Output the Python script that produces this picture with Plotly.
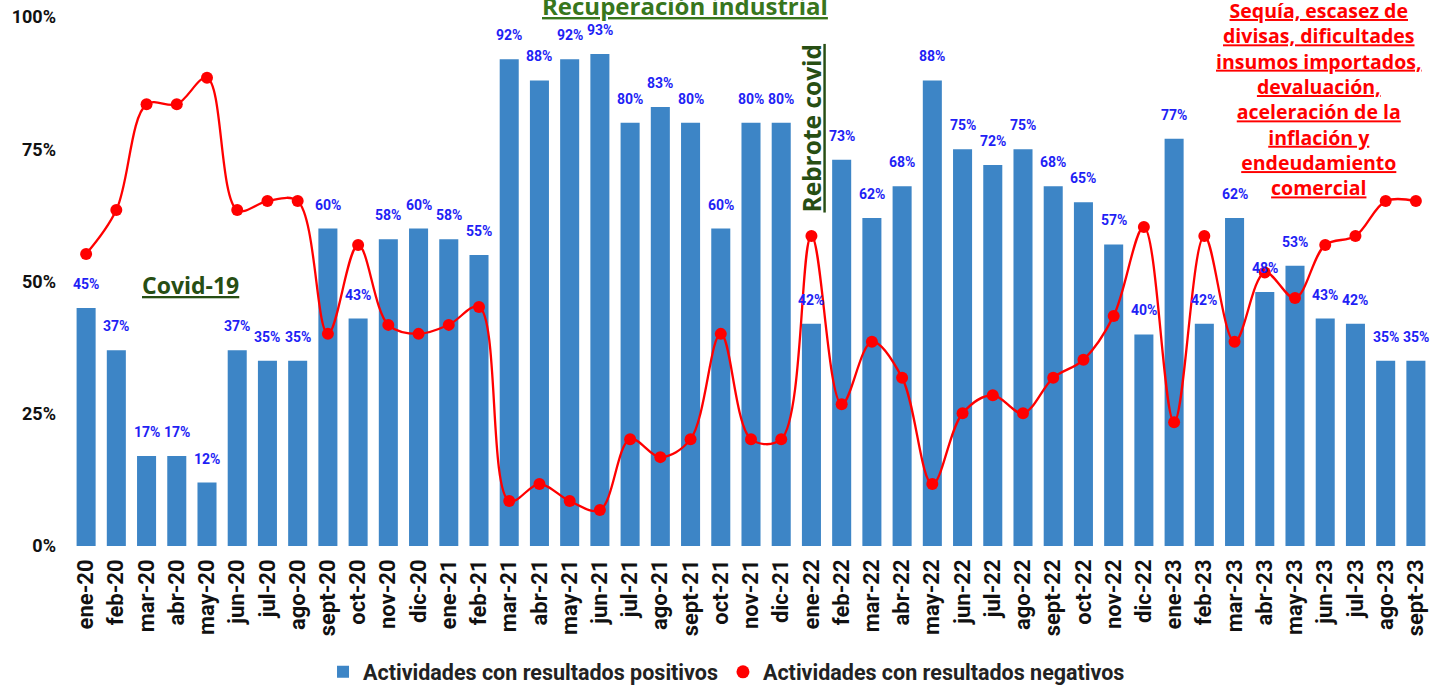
import plotly.graph_objects as go

categories = ["ene-20","feb-20","mar-20","abr-20","may-20","jun-20","jul-20","ago-20","sept-20","oct-20","nov-20","dic-20",
              "ene-21","feb-21","mar-21","abr-21","may-21","jun-21","jul-21","ago-21","sept-21","oct-21","nov-21","dic-21",
              "ene-22","feb-22","mar-22","abr-22","may-22","jun-22","jul-22","ago-22","sept-22","oct-22","nov-22","dic-22",
              "ene-23","feb-23","mar-23","abr-23","may-23","jun-23","jul-23","ago-23","sept-23"]

positivos = [45, 37, 17, 17, 12, 37, 35, 35, 60, 43, 58, 60,
             58, 55, 92, 88, 92, 93, 80, 83, 80, 60, 80, 80,
             42, 73, 62, 68, 88, 75, 72, 75, 68, 65, 57, 40,
             77, 42, 62, 48, 53, 43, 42, 35, 35]

negativos = [55.2, 63.5, 83.5, 83.5, 88.5, 63.5, 65.2, 65.2, 40.1, 56.9, 41.8, 40.1,
             41.8, 45.2, 8.5, 11.7, 8.5, 6.8, 20.2, 16.8, 20.2, 40.1, 20.2, 20.2,
             58.6, 26.8, 38.6, 31.8, 11.7, 25.1, 28.5, 25.1, 31.8, 35.2, 43.5, 60.3,
             23.4, 58.6, 38.6, 51.7, 46.9, 56.9, 58.6, 65.2, 65.2]

ytick_vals = [0, 25, 50, 75, 100]
ytick_text = ["0%", "25%", "50%", "75%", "100%"]

name_pos = "Actividades con resultados positivos"
name_neg = "Actividades con resultados negativos"

fig = go.Figure()
fig.add_trace(go.Bar(
    x=categories, y=positivos, name=f"<b>{name_pos}</b>",
    marker=dict(color="#3d85c6", line=dict(width=0)),
))
fig.add_trace(go.Scatter(
    x=categories, y=negativos, name=f"<b>{name_neg}</b>", showlegend=False,
    mode="lines+markers", line=dict(color="#ff0000", width=2.3, shape="spline", smoothing=1.0),
    marker=dict(color="#ff0000", size=12),
))
# legend entry showing only the red dot
fig.add_trace(go.Scatter(
    x=[None], y=[None], name=f"<b>{name_neg}</b>", mode="markers",
    marker=dict(color="#ff0000", size=13),
))

for c, v in zip(categories, positivos):
    fig.add_annotation(x=c, y=v, text=f"<b>{v}%</b>", showarrow=False, yshift=24,
                       font=dict(family="Roboto", size=14, color="#1f1ff5"))

ann_font = "Open Sans"
fig.add_annotation(xref="x", yref="y", x=3.44, y=49.3, text="<b><u>Covid-19</u></b>", showarrow=False,
                   font=dict(family=ann_font, size=23, color="#274e13"))
fig.add_annotation(xref="x", yref="paper", x=19.8, y=1.0, yshift=12, yanchor="middle",
                   text="<b><u>Recuperación industrial</u></b>", showarrow=False,
                   font=dict(family=ann_font, size=24, color="#38761d"))
fig.add_annotation(xref="x", yref="y", x=24.0, y=79, text="<b><u>Rebrote covid</u></b>", showarrow=False, textangle=-90,
                   font=dict(family=ann_font, size=24.5, color="#274e13"))
red_lines = ["Sequía, escasez de", "divisas, dificultades", "insumos importados,", "devaluación,",
             "aceleración de la", "inflación y", "endeudamiento", "comercial"]
fig.add_annotation(xref="x", yref="y", x=40.8, y=84.5, showarrow=False,
                   text="<br>".join(f"<b><u>{t}</u></b>" for t in red_lines),
                   font=dict(family=ann_font, size=19.5, color="#ff0000"))

fig.update_layout(
    width=1431, height=687,
    margin=dict(l=71, r=0, t=17, b=141),
    plot_bgcolor="white", paper_bgcolor="white",
    bargap=0.37,
    showlegend=True,
    legend=dict(orientation="h", x=0.482, xanchor="center", yref="container", y=0.022, yanchor="middle",
                font=dict(family="Roboto", size=21.5, color="#222222"), itemwidth=30,
                tracegroupgap=0, borderwidth=0),
    xaxis=dict(type="category", range=[-0.5, 44.5], tickangle=-90, showgrid=False, showline=False, ticks="",
               tickfont=dict(family="Roboto", size=22, color="#111111"),
               tickprefix="<b>", ticksuffix="</b>", ticklabelstandoff=8, automargin=False),
    yaxis=dict(range=[0, 100], tickvals=ytick_vals, ticktext=[f"<b>{t}</b>" for t in ytick_text],
               showgrid=False, zeroline=False, showline=False, automargin=False,
               tickfont=dict(family="Roboto", size=18, color="#111111"), ticklabelstandoff=14),
)

fig.write_html("out.html", config={"displayModeBar": False},
               post_script="document.body.style.margin='0';")
